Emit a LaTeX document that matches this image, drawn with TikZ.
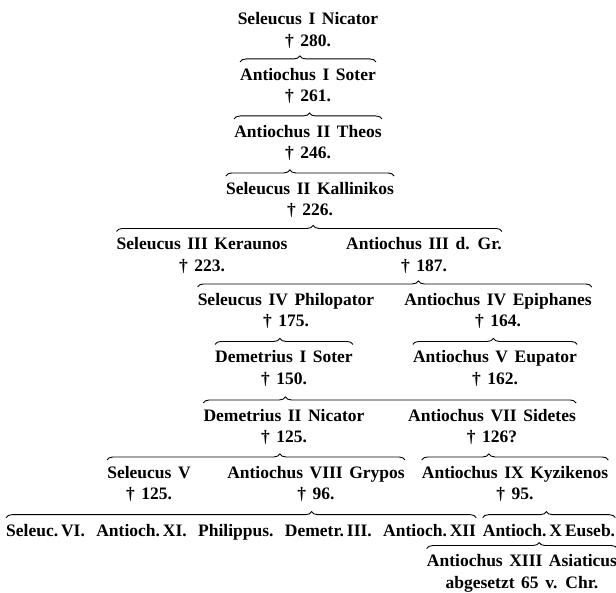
\documentclass[tikz,border=0pt]{standalone}
\usepackage{fontspec}
\setmainfont{Liberation Serif}[WordSpace=1.5]
\usetikzlibrary{decorations.pathreplacing,calc,positioning}

\tikzset{
  king/.style={align=center, inner sep=0pt, font=\bfseries\fontsize{17.5}{21.5}\selectfont},
  famly/.style={decorate, decoration={brace, amplitude=6pt, aspect=#1}, line width=0.9pt},
}
% brace over the children, from the first to the last one
\newcommand{\kids}[3]{\draw[famly=#1] ($(#2.north west)+(0,6pt)$) -- ($(#2.north west -| #3.north east)+(0,6pt)$);}

\begin{document}
\begin{tikzpicture}[x=1pt, y=-1pt]
  \useasboundingbox[fill=white] (0,0) rectangle (616,593);

  % Generation 1 to 4
  \node[king] (s1) at (308,30.5) {Seleucus I Nicator\\† 280.};
  \node[king] (a1) at (308,86) {Antiochus I Soter\\† 261.};
  \node[king] (a2) at (308,143) {Antiochus II Theos\\† 246.};
  \node[king] (s2) at (310,200) {Seleucus II Kallinikos\\† 226.};

  % Generation 5
  \node[king] (s3) at (202,255.5) {Seleucus III Keraunos\\† 223.};
  \node[king] (a3) at (424,255.5) {Antiochus III d. Gr.\\† 187.};

  % Generation 6
  \node[king] (s4) at (286,311) {Seleucus IV Philopator\\† 175.};
  \node[king] (a4) at (498,311) {Antiochus IV Epiphanes\\† 164.};

  % Generation 7
  \node[king] (d1) at (284,368.5) {Demetrius I Soter\\† 150.};
  \node[king] (a5) at (495,368.5) {Antiochus V Eupator\\† 162.};

  % Generation 8
  \node[king] (d2) at (284,427) {Demetrius II Nicator\\† 125.};
  \node[king] (a7) at (492,427) {Antiochus VII Sidetes\\† 126?};

  % Generation 9
  \node[king] (s5) at (149,484) {Seleucus V\\† 125.};
  \node[king] (a8) at (316,484) {Antiochus VIII Grypos\\† 96.};
  \node[king] (a9) at (515,484) {Antiochus IX Kyzikenos\\† 95.};

  % Generation 10
  \node[king, anchor=base west] (s6) at (6,536) {Seleuc.\,VI.};
  \node[king, base right=11pt of s6] (a11) {Antioch.\,XI.};
  \node[king, base right=11pt of a11] (ph) {Philippus.};
  \node[king, base right=11pt of ph] (d3) {Demetr.\,III.};
  \node[king, base right=11pt of d3] (a12) {Antioch.\,XII};
  \node[king, anchor=base] (a10) at (549,536) {Antioch.\,X\,Euseb.};

  % Generation 11
  \node[king] (a13) at (522,573.5) {Antiochus XIII Asiaticus\\abgesetzt 65 v. Chr.};

  % braces
  \kids{0.44}{a1}{a1}
  \kids{0.51}{a2}{a2}
  \kids{0.38}{s2}{s2}
  \kids{0.51}{s3}{a3}
  \kids{0.56}{s4}{a4}
  \kids{0.47}{d1}{d1}
  \kids{0.49}{a5}{a5}
  \kids{0.22}{d2}{a7}
  \kids{0.58}{s5}{a8}
  \kids{0.36}{a9}{a9}
  \kids{0.65}{s6}{a12}
  \kids{0.48}{a10}{a10}
  \kids{0.59}{a13}{a13}
\end{tikzpicture}
\end{document}
